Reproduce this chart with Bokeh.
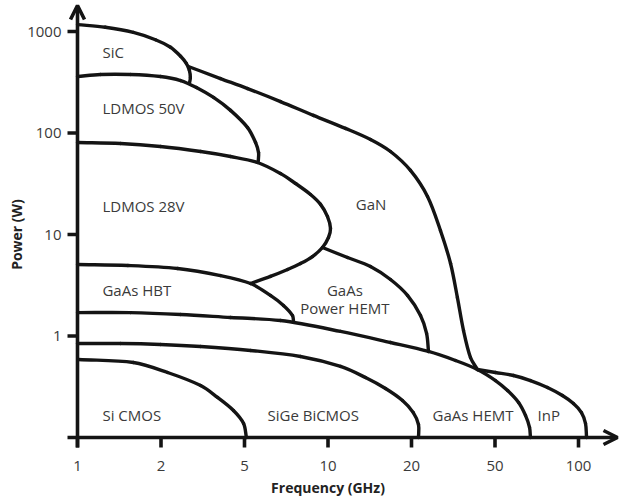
import numpy as np
from bokeh.plotting import figure
from bokeh.models import Range1d, Arrow, OpenHead
from bokeh.core.properties import value
from bokeh.embed import file_html
from bokeh.resources import INLINE

# ---- axis ticks -------------------------------------------------------------
freq_ticks = [1, 2, 5, 10, 20, 50, 100]            # GHz, drawn equally spaced
freq_tick_labels = ["1", "2", "5", "10", "20", "50", "100"]
power_ticks = [1, 10, 100, 1000]                   # W, log axis
power_tick_labels = ["1", "10", "100", "1000"]
power_floor = 0.1                                  # power at the frequency axis

# ---- region boundaries (frequency in GHz, power in W) -----------------------
sic_f = [1.0, 1.26, 1.59, 1.91, 2.22, 2.48, 2.64, 2.73, 2.76, 2.73]
sic_p = [1170, 1100, 980, 830, 700, 570, 485, 415, 350, 307]

ldmos50_f = [1.0, 1.21, 1.55, 1.99, 2.48, 2.95, 3.56, 4.29, 5.13, 5.48, 5.62, 5.6]
ldmos50_p = [360, 377, 377, 360, 329, 281, 224, 167, 113, 80.6, 64, 51.5]

gan_f = [2.70, 3.84, 5.13, 6.74, 8.86, 11.56, 14.23, 16.80, 19.83, 23.84,
         27.5, 30.7, 33.1, 35.4, 38.2, 41.2]
gan_p = [452, 344, 274, 204, 149, 111, 86.3, 65.7, 42.8, 23.7,
         10.9, 5.18, 2.39, 1.13, 0.614, 0.468]

ldmos28_f = [1.0, 1.43, 1.99, 3.09, 4.29, 5.57, 6.74, 7.64, 8.65, 9.40, 9.96,
             10.21, 10.04, 9.55, 8.79, 7.96, 7.15, 6.20, 5.26]
ldmos28_p = [80.6, 78.8, 73.6, 65.7, 58.7, 51.2, 39.9, 31.8, 24.8, 19.8, 15.0,
             11.5, 9.34, 7.45, 6.07, 5.18, 4.52, 3.86, 3.29]

phemt_f = [9.55, 11.76, 14.23, 16.80, 19.35, 22.08, 23.6, 24.1]
phemt_p = [7.45, 5.93, 4.84, 3.60, 2.51, 1.59, 1.06, 0.704]

hbt_f = [1.0, 1.52, 2.40, 3.84, 5.26, 6.20, 6.91, 7.45, 7.51]
hbt_p = [5.06, 4.95, 4.62, 3.94, 3.29, 2.51, 2.00, 1.59, 1.39]

hemt_f = [1.0, 1.55, 2.48, 4.29, 6.74, 11.10, 16.80, 24.1, 32.4, 41.2, 50.2,
          55.5, 60.8, 64.4, 66.6, 67.1]
hemt_p = [1.70, 1.70, 1.63, 1.52, 1.42, 1.11, 0.863, 0.704, 0.574, 0.468, 0.364,
          0.290, 0.221, 0.165, 0.1255, 0.1]

sige_f = [1.0, 1.43, 1.99, 3.09, 5.26, 7.96, 11.10, 13.65, 16.12, 18.56, 20.4, 21.6, 21.6]
sige_p = [0.843, 0.843, 0.825, 0.788, 0.720, 0.628, 0.501, 0.390, 0.304, 0.2315,
          0.176, 0.134, 0.1]

cmos_f = [1.01, 1.59, 2.15, 3.09, 3.72, 4.43, 4.95, 5.08]
cmos_p = [0.587, 0.548, 0.437, 0.325, 0.248, 0.1845, 0.1374, 0.1]

inp_f = [41.2, 50.2, 58.3, 67.1, 77.3, 87.5, 95.9, 102.5, 106.0, 106.9]
inp_p = [0.468, 0.437, 0.408, 0.364, 0.311, 0.259, 0.216, 0.176, 0.1374, 0.1]

# ---- region names -----------------------------------------------------------
region_names = ["SiC", "LDMOS 50V", "LDMOS 28V", "GaN", "GaAs HBT",
                "Si CMOS", "SiGe BiCMOS", "GaAs HEMT", "InP"]
region_f = [1.23, 1.23, 1.23, 12.6, 1.23, 1.23, 6.05, 25.2, 71.2]
region_p = [635, 178, 19.3, 19.8, 2.87, 0.165, 0.165, 0.165, 0.165]
phemt_names = ["GaAs", "Power HEMT"]
phemt_name_f = [11.5, 11.5]
phemt_name_p = [2.87, 1.87]

# ---- layout -----------------------------------------------------------------
W, H = 619, 499
X0, PX_U = 77.0, 83.5      # canvas px of 1 GHz, px per tick step
Y0, PX_DEC = 31.0, 101.5   # canvas px of 1000 W, px per decade
INK = "#141414"
TXT = "#3a3a3a"
FONT = value("Open Sans")


def fpos(f):
    lt = np.log10(np.array(freq_ticks + [200], dtype=float))
    return np.interp(np.log10(np.asarray(f, dtype=float)), lt, np.arange(lt.size))


def smooth_segments(fx, pw):
    """Cubic Bezier pieces through the read points (Catmull-Rom style tangents)."""
    q = np.column_stack([fpos(fx) * PX_U, np.log10(pw) * PX_DEC])
    d = np.hypot(*np.diff(q, axis=0).T)
    n = len(q)
    m = np.zeros_like(q)
    m[0] = (q[1] - q[0]) / d[0]
    m[-1] = (q[-1] - q[-2]) / d[-1]
    for i in range(1, n - 1):
        m[i] = (q[i + 1] - q[i - 1]) / (d[i - 1] + d[i])
    c0 = q[:-1] + m[:-1] * (d[:, None] / 3)
    c1 = q[1:] - m[1:] * (d[:, None] / 3)

    def back(a):
        return a[:, 0] / PX_U, 10 ** (a[:, 1] / PX_DEC)

    (x0, y0), (x1, y1) = back(q[:-1]), back(q[1:])
    (cx0, cy0), (cx1, cy1) = back(c0), back(c1)
    return dict(x0=x0, y0=y0, x1=x1, y1=y1, cx0=cx0, cy0=cy0, cx1=cx1, cy1=cy1)


p = figure(width=W, height=H,
           x_range=Range1d(-X0 / PX_U, (W - X0) / PX_U),
           y_range=Range1d(10 ** (3 - (H - Y0) / PX_DEC), 10 ** (3 + Y0 / PX_DEC)),
           y_axis_type="log", x_axis_location=None, y_axis_location=None,
           min_border=0, toolbar_location=None, tools="", output_backend="svg",
           title=None, outline_line_color=None,
           background_fill_color="white", border_fill_color="white")
p.xgrid.visible = False
p.ygrid.visible = False

boundaries = [(sic_f, sic_p), (ldmos50_f, ldmos50_p), (gan_f, gan_p),
              (ldmos28_f, ldmos28_p), (phemt_f, phemt_p), (hbt_f, hbt_p),
              (hemt_f, hemt_p), (sige_f, sige_p), (cmos_f, cmos_p), (inp_f, inp_p)]
for fx, pw in boundaries:
    seg = smooth_segments(fx, pw)
    p.bezier(**seg, line_width=3.4, line_color=INK, line_cap="round")

# ticks
du = 10 / PX_U
dlog = 10 / PX_DEC
p.segment(x0=[-du] * len(power_ticks), y0=power_ticks,
          x1=[0] * len(power_ticks), y1=power_ticks,
          line_width=3.6, line_color=INK)
xt = fpos(freq_ticks)
p.segment(x0=xt, y0=[power_floor] * len(xt), x1=xt,
          y1=[power_floor * 10 ** (-dlog)] * len(xt),
          line_width=3.6, line_color=INK)

# axes with arrow heads
p.add_layout(Arrow(end=OpenHead(size=14, line_width=3.6, line_color=INK),
                   x_start=0, y_start=power_floor * 10 ** (-dlog),
                   x_end=0, y_end=10 ** (3 + (Y0 - 5) / PX_DEC),
                   line_width=3.6, line_color=INK))
p.add_layout(Arrow(end=OpenHead(size=14, line_width=3.6, line_color=INK),
                   x_start=-du, y_start=power_floor,
                   x_end=(617 - X0) / PX_U, y_end=power_floor,
                   line_width=3.6, line_color=INK))

# tick labels
p.text(x=xt, y=[power_floor] * len(xt), text=freq_tick_labels,
       text_align="center", text_baseline="middle", y_offset=28,
       text_font=FONT, text_font_size="15px", text_color=TXT)
p.text(x=[0] * len(power_ticks), y=power_ticks, text=power_tick_labels,
       text_align="right", text_baseline="middle", x_offset=-16,
       text_font=FONT, text_font_size="15px", text_color=TXT)

# axis titles
p.text(x=[fpos([10])[0]], y=[power_floor], text=["Frequency (GHz)"],
       text_align="center", text_baseline="middle", y_offset=50,
       text_font=FONT, text_font_size="14px", text_font_style="bold",
       text_color="#222222")
p.text(x=[0], y=[10], text=["Power (W)"], angle=np.pi / 2,
       text_align="center", text_baseline="middle", x_offset=-61,
       text_font=FONT, text_font_size="14px", text_font_style="bold",
       text_color="#222222")

# region labels
p.text(x=fpos(region_f), y=region_p, text=region_names,
       text_align="left", text_baseline="middle",
       text_font=FONT, text_font_size="15px", text_color=TXT)
p.text(x=fpos(phemt_name_f), y=phemt_name_p, text=phemt_names,
       text_align="center", text_baseline="middle",
       text_font=FONT, text_font_size="15px", text_color=TXT)

open("out.html", "w").write(file_html(p, INLINE))
